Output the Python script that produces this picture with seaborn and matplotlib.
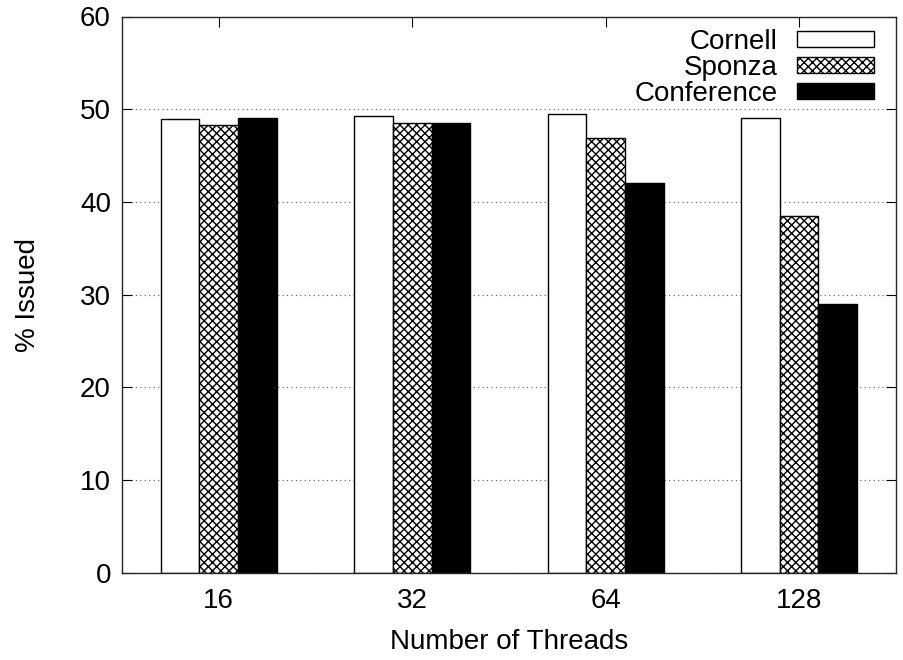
import numpy as np
import pandas as pd
import seaborn as sns
import matplotlib.pyplot as plt
from matplotlib.patches import Patch

threads = ["16", "32", "64", "128"]
scenes = ["Cornell", "Sponza", "Conference"]
cornell = [48.9, 49.3, 49.5, 49.1]
sponza = [48.3, 48.5, 46.9, 38.5]
conference = [49.1, 48.5, 42.0, 29.0]

df = pd.DataFrame({
    "Threads": threads * 3,
    "Scene": [s for s in scenes for _ in threads],
    "Issued": cornell + sponza + conference,
})

sns.set_style("ticks")
plt.rcParams['font.family'] = ['Liberation Sans', 'DejaVu Sans']
plt.rcParams['hatch.linewidth'] = 1.0
plt.rcParams['text.color'] = 'black'
plt.rcParams['axes.labelcolor'] = 'black'
plt.rcParams['xtick.color'] = 'black'
plt.rcParams['ytick.color'] = 'black'

fig, ax = plt.subplots(figsize=(9.04, 6.60), dpi=100)
fig.subplots_adjust(left=0.135, right=0.991, top=0.975, bottom=0.132)

colors = {"Cornell": "white", "Sponza": "white", "Conference": "black"}
hatches = {"Cornell": "", "Sponza": "xxxx", "Conference": ""}

sns.barplot(data=df, x="Threads", y="Issued", hue="Scene", order=threads,
            hue_order=scenes, palette=colors, width=0.6, gap=0,
            edgecolor="black", linewidth=1, saturation=1, legend=False, ax=ax, zorder=3)

# seaborn draws bars hue by hue
for i, bar in enumerate(ax.patches[:len(threads) * len(scenes)]):
    scene = scenes[i // len(threads)]
    bar.set_hatch(hatches[scene])
    bar.set_edgecolor("black")

ax.set_xlim(-0.5, 3.5)
ax.set_ylim(0, 60)
ax.set_yticks(range(0, 61, 10))
ax.yaxis.grid(True, linestyle=(0, (1, 3)), color="#555555", linewidth=0.8, zorder=0)
ax.set_axisbelow(True)
ax.tick_params(direction="in", top=True, right=True, length=7, labelsize=20)
ax.tick_params(axis="x", pad=11)
ax.tick_params(axis="y", pad=8)
for sp in ax.spines.values():
    sp.set_linewidth(1)
    sp.set_zorder(5)

ax.set_xlabel("Number of Threads", fontsize=20, labelpad=11)
ax.set_ylabel("% Issued", fontsize=20, labelpad=28)

handles = [Patch(facecolor=colors[s], edgecolor="black", hatch=hatches[s], linewidth=1)
           for s in scenes]
ax.legend(handles, scenes, loc="upper right", frameon=False, markerfirst=False,
          fontsize=20, handlelength=2.75, handleheight=0.5, labelspacing=0.0,
          handletextpad=0.7, borderaxespad=0.2, bbox_to_anchor=(0.993, 1.007))

fig.savefig("out.png", dpi=100)
